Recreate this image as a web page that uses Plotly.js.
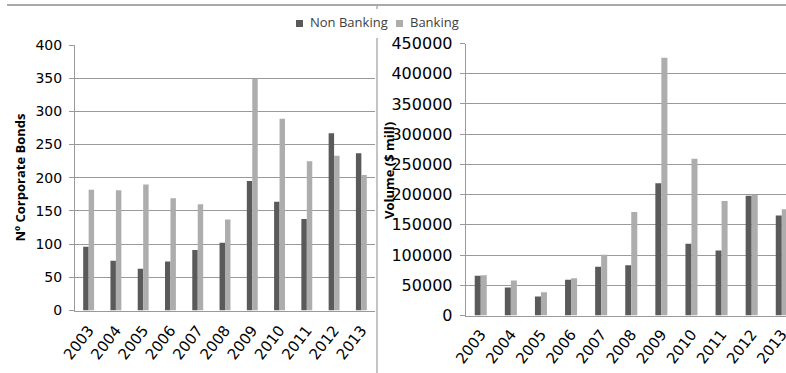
<!DOCTYPE html>
<html>
<head>
<meta charset="utf-8">
<script src="https://cdn.plot.ly/plotly-3.0.1.min.js"></script>
<style>html,body{margin:0;padding:0;background:#fff;}#chart{width:786px;height:373px;}</style>
</head>
<body>
<div id="chart"></div>
<script>
var years = ["2003","2004","2005","2006","2007","2008","2009","2010","2011","2012","2013"];
var countNonBanking = [96, 75, 63, 74, 91, 102, 195, 164, 138, 267, 237];
var countBanking    = [182, 181, 190, 169, 160, 137, 349, 289, 225, 233, 204];
var volNonBanking = [65600, 46300, 31400, 59000, 80500, 83300, 218800, 118500, 107400, 198000, 165300];
var volBanking    = [66700, 57900, 38600, 61800, 100300, 171400, 426400, 259500, 189600, 199800, 175900];
var seriesNames = ["Non Banking", "Banking"];
var yTitleLeft = "Nº Corporate Bonds";
var yTitleRight = "Volume ($ mill)";

var W = 786, H = 373;
var DARK = "#5a5a5a", LIGHT = "#adadad", GRID = "#9a9a9a";
function px(x){ return x / W; }
function py(y){ return 1 - y / H; }

var traces = [
  {type:"bar", x:years, y:countNonBanking, name:seriesNames[0], marker:{color:DARK}, xaxis:"x", yaxis:"y", showlegend:false},
  {type:"bar", x:years, y:countBanking, name:seriesNames[1], marker:{color:LIGHT}, xaxis:"x", yaxis:"y", showlegend:false},
  {type:"bar", x:years, y:volNonBanking, name:seriesNames[0], marker:{color:DARK}, xaxis:"x2", yaxis:"y2", showlegend:false},
  {type:"bar", x:years, y:volBanking, name:seriesNames[1], marker:{color:LIGHT}, xaxis:"x2", yaxis:"y2", showlegend:false}
];

var tickFontL = {family:"DejaVu Sans", size:14, color:"#000"};
var tickFontR = {family:"DejaVu Sans", size:16, color:"#000"};
var xTickFont = {family:"DejaVu Sans", size:15, color:"#000"};

var layout = {
  width: W, height: H,
  margin: {l:0, r:0, t:0, b:0, pad:0},
  paper_bgcolor: "#fff", plot_bgcolor: "#fff",
  barmode: "group", bargap: 0.6, bargroupgap: 0,
  showlegend: false,
  xaxis: {
    domain: [px(75), px(375)], anchor: "y", type: "category",
    range: [-0.5, 10.5], tickangle: -52, tickfont: xTickFont,
    showgrid: false, showline: true, linecolor: GRID, linewidth: 1, ticks: "", zeroline: false,
    ticklabelstandoff: 4, fixedrange: true
  },
  yaxis: {
    domain: [py(310.5), py(45)], anchor: "x", range: [0, 400], dtick: 50,
    showgrid: true, gridcolor: GRID, gridwidth: 1, showline: true, linecolor: GRID,
    ticks: "outside", ticklen: 5, tickcolor: GRID, tickfont: tickFontL, zeroline: false,
    ticklabelstandoff: 4, fixedrange: true
  },
  xaxis2: {
    domain: [px(465.7), 1], anchor: "y2", type: "category",
    range: [-0.5, 10.14], tickangle: -52, tickfont: xTickFont,
    showgrid: false, showline: true, linecolor: GRID, linewidth: 1, ticks: "", zeroline: false,
    ticklabelstandoff: 3, fixedrange: true
  },
  yaxis2: {
    domain: [py(315.5), py(43.5)], anchor: "x2", range: [0, 450000], dtick: 50000,
    showgrid: true, gridcolor: GRID, gridwidth: 1, showline: true, linecolor: GRID,
    ticks: "outside", ticklen: 5, tickcolor: GRID, tickfont: tickFontR, zeroline: false,
    tickformat: "d", ticklabelstandoff: 4, fixedrange: true
  },
  shapes: [
    {type:"line", xref:"paper", yref:"paper", x0:px(7), x1:1, y0:py(5), y1:py(5), line:{color:"#555", width:1}},
    {type:"line", xref:"paper", yref:"paper", x0:px(377), x1:px(377), y0:py(6), y1:py(9), line:{color:"#888", width:1}},
    {type:"line", xref:"paper", yref:"paper", x0:px(377), x1:px(377), y0:py(38), y1:0, line:{color:"#888", width:1}},
    {type:"rect", xref:"paper", yref:"paper", x0:px(296), x1:px(303), y0:py(27), y1:py(20), fillcolor:DARK, line:{width:0}},
    {type:"rect", xref:"paper", yref:"paper", x0:px(396), x1:px(403), y0:py(27), y1:py(20), fillcolor:LIGHT, line:{width:0}}
  ],
  annotations: [
    {xref:"paper", yref:"paper", x:px(308), y:py(22), xanchor:"left", yanchor:"middle", showarrow:false,
     text:seriesNames[0], font:{family:"Open Sans", size:13, color:"#404040"}},
    {xref:"paper", yref:"paper", x:px(408), y:py(22), xanchor:"left", yanchor:"middle", showarrow:false,
     text:seriesNames[1], font:{family:"Open Sans", size:13, color:"#404040"}},
    {xref:"paper", yref:"paper", x:px(19), y:py(177.5), xanchor:"center", yanchor:"middle", showarrow:false,
     textangle:-90, text:"<b>"+yTitleLeft+"</b>", font:{family:"Open Sans", size:13, color:"#000"}},
    {xref:"paper", yref:"paper", x:px(389), y:py(171), xanchor:"center", yanchor:"middle", showarrow:false,
     textangle:-90, text:"<b>"+yTitleRight+"</b>", font:{family:"Open Sans", size:13, color:"#000"}}
  ]
};

Plotly.newPlot("chart", traces, layout, {displayModeBar:false, staticPlot:true});
</script>
</body>
</html>
